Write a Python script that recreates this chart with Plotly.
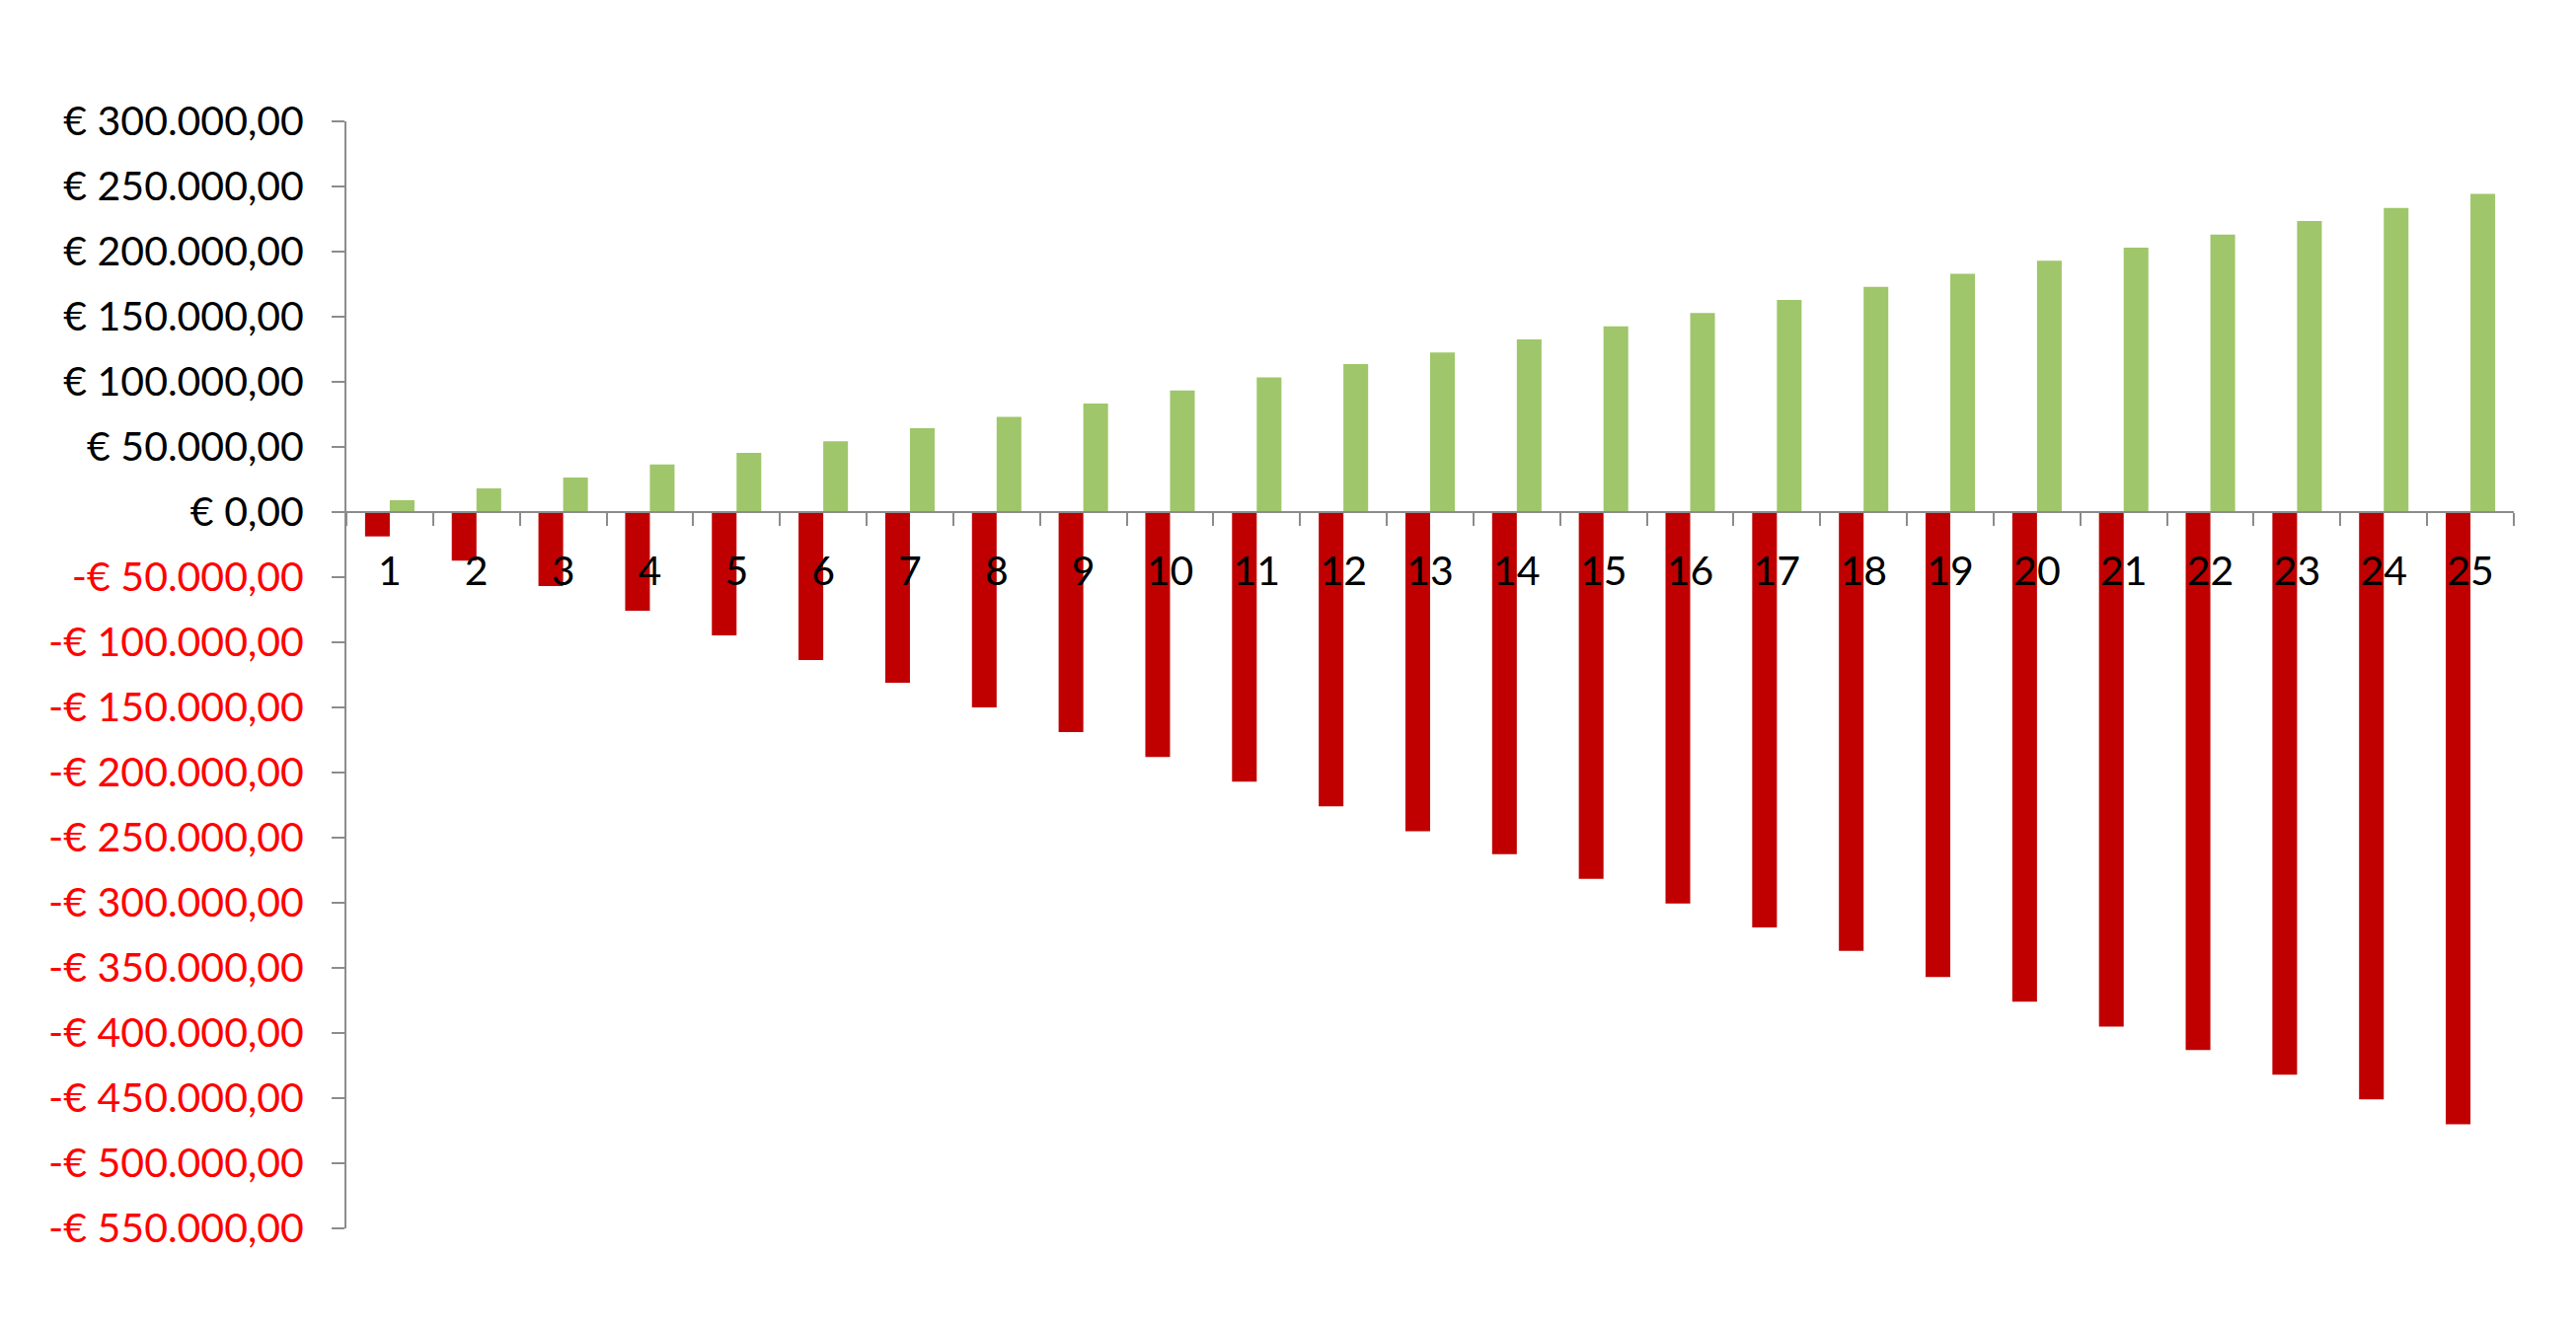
import plotly.graph_objects as go

# years 1..25
years = [str(i) for i in range(1, 26)]

# values (euro)
costs = [-18700, -37400, -56800, -75800, -94700, -113600, -131000, -150000, -169000, -188000,
         -207000, -226000, -245000, -262600, -281600, -300500, -319000, -337000, -357000, -376000,
         -395000, -413000, -432000, -451000, -470000]
savings = [9100, 18200, 26500, 36600, 45500, 54300, 64400, 73200, 83300, 93400,
           103500, 113600, 122500, 132600, 142700, 152800, 162900, 173000, 183000, 193000,
           203000, 213000, 223500, 233600, 244400]

y_min = -550000
y_max = 300000
y_step = 50000
tick_vals = list(range(y_min, y_max + 1, y_step))


def euro(v):
    s = f"{abs(v):,.2f}".replace(",", "X").replace(".", ",").replace("X", ".")
    if v < 0:
        return '<span style="color:#FF0000">-€ ' + s + '</span>'
    return "€ " + s


tick_text = [euro(v) for v in tick_vals]

axis_grey = "#8C8C8C"
font_name = "Lato"

fig = go.Figure()
fig.add_trace(go.Bar(x=years, y=costs, marker_color="#C00000", marker_line_width=0))
fig.add_trace(go.Bar(x=years, y=savings, marker_color="#9FC66A", marker_line_width=0))

# put the category axis on the zero line
zero_pos = (0 - y_min) / (y_max - y_min)

fig.update_layout(
    width=2610, height=1347,
    margin=dict(l=343, r=71, t=115, b=110),
    paper_bgcolor="white", plot_bgcolor="white",
    showlegend=False,
    barmode="group", bargap=0.43, bargroupgap=0,
    font=dict(family=font_name, size=41, color="black"),
)
fig.update_xaxes(
    type="category", anchor="free", position=zero_pos,
    showline=True, linecolor=axis_grey, linewidth=2,
    ticks="outside", tickson="boundaries", ticklen=13, tickwidth=2, tickcolor=axis_grey,
    showgrid=False, zeroline=False,
    tickfont=dict(family=font_name, size=41, color="black"),
    ticklabelstandoff=24,
)
fig.update_yaxes(
    range=[y_min, y_max], tickvals=tick_vals, ticktext=tick_text,
    showline=True, linecolor=axis_grey, linewidth=2,
    ticks="outside", ticklen=13, tickwidth=2, tickcolor=axis_grey,
    showgrid=False, zeroline=False,
    tickfont=dict(family=font_name, size=41, color="black"),
    ticklabelstandoff=20,
)

fig.write_html("out.html")
